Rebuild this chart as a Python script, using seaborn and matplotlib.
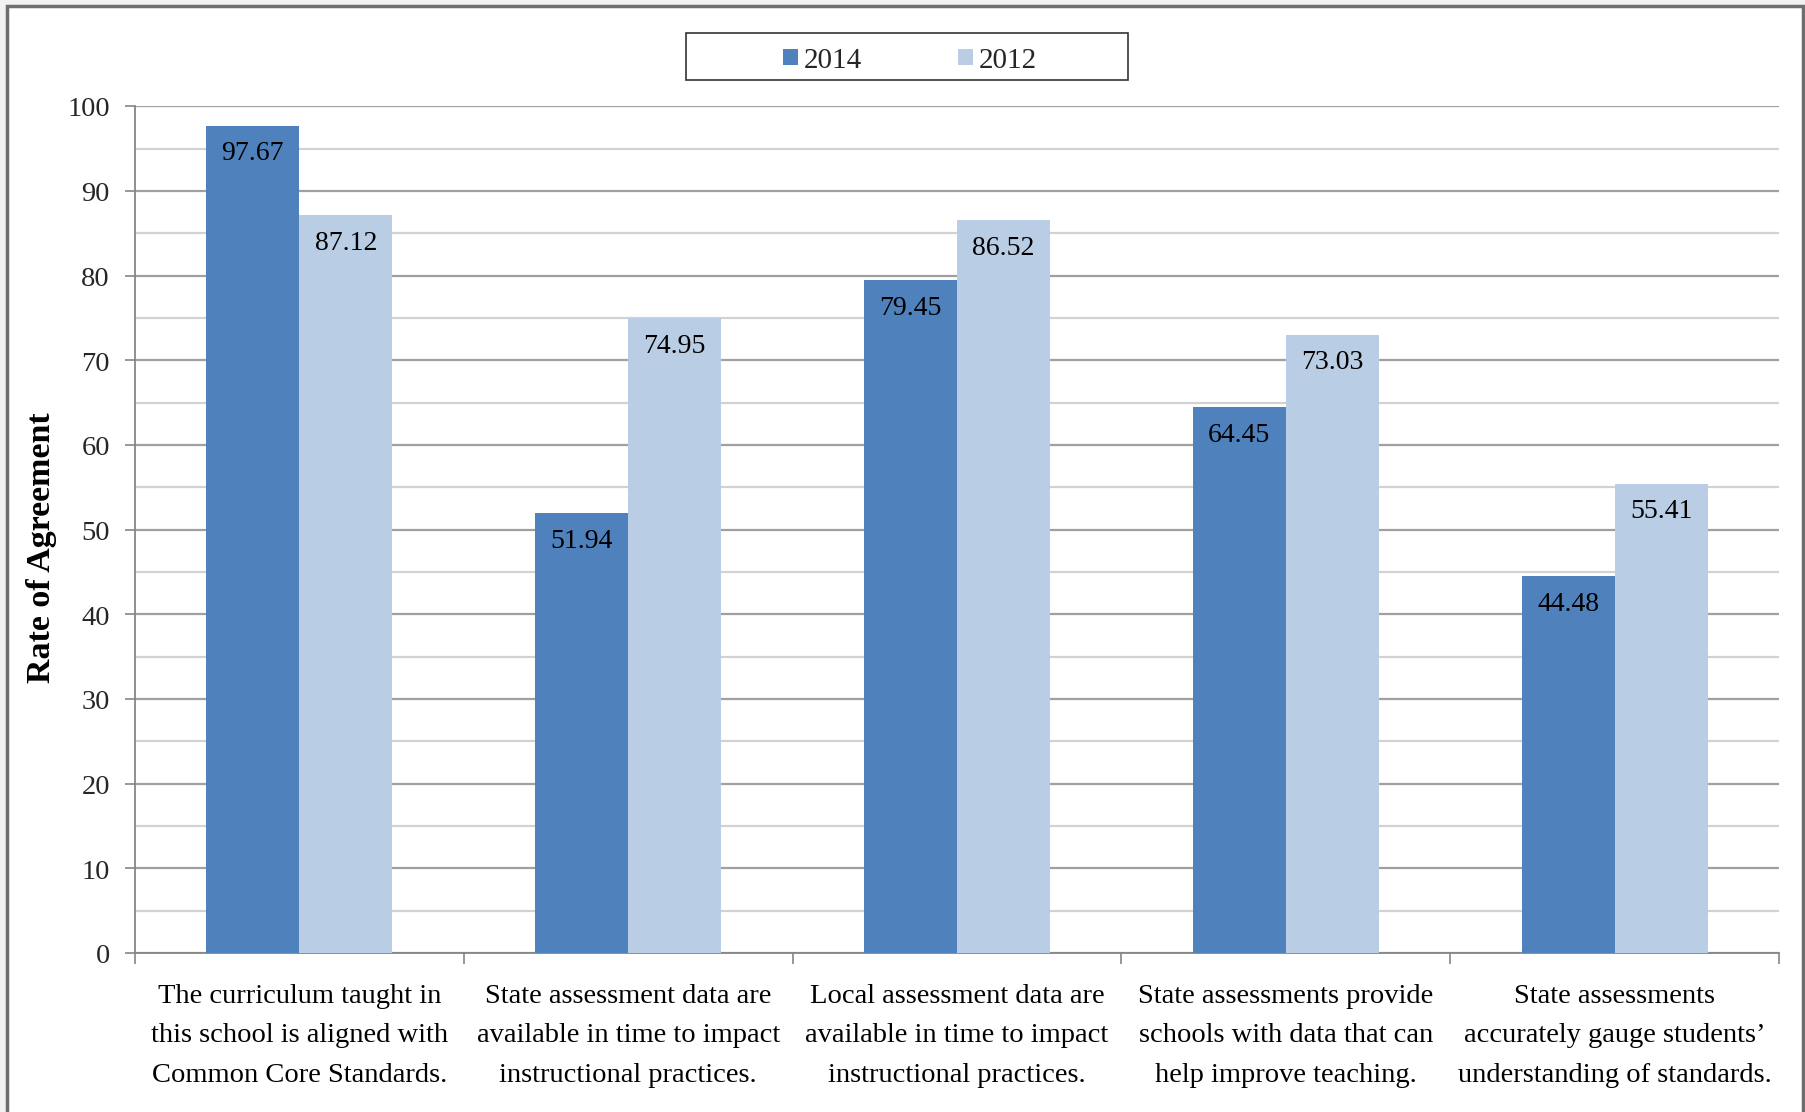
import pandas as pd
import matplotlib
matplotlib.use("Agg")
import matplotlib.pyplot as plt
from matplotlib.patches import Rectangle
from matplotlib.transforms import ScaledTranslation
import seaborn as sns

# chart data
categories = [
    "The curriculum taught in\nthis school is aligned with\nCommon Core Standards.",
    "State assessment data are\navailable in time to impact\ninstructional practices.",
    "Local assessment data are\navailable in time to impact\ninstructional practices.",
    "State assessments provide\nschools with data that can\nhelp improve teaching.",
    "State assessments\naccurately gauge students\u2019\nunderstanding of standards.",
]
years = ["2014", "2012"]
values_2014 = [97.67, 51.94, 79.45, 64.45, 44.48]
values_2012 = [87.12, 74.95, 86.52, 73.03, 55.41]
colors = ["#4F81BD", "#B9CDE5"]

df = pd.DataFrame({
    "category": categories * 2,
    "year": [years[0]] * len(categories) + [years[1]] * len(categories),
    "value": values_2014 + values_2012,
})

sns.set_theme(style="white")
plt.rcParams["font.family"] = ["Liberation Serif", "DejaVu Serif"]

W, H = 1806, 1113
fig = plt.figure(figsize=(18.06, 11.128), dpi=100)
fig.patch.set_facecolor("#f2f2f2")

# white chart area with grey frame, kept behind the axes
frame = Rectangle((7 / W, -0.02), (1803 - 7) / W, 1.02 - 7 / H,
                  transform=fig.transFigure, facecolor="white",
                  edgecolor="#6e6e6e", linewidth=2.5, zorder=-10)
fig.patches.append(frame)

ax = fig.add_axes([135 / W, 1 - 954 / H, (1779 - 135) / W, (954 - 107) / H])
ax.set_facecolor("none")
ax.set_zorder(1)

sns.barplot(data=df, x="category", y="value", hue="year", hue_order=years,
            palette=colors, width=0.566, gap=0, saturation=1, ax=ax,
            edgecolor="none", linewidth=0, legend=False, zorder=3)

# value labels inside the top of each bar
for container in ax.containers:
    for bar in container:
        h = bar.get_height()
        ax.annotate(f"{h:.2f}", (bar.get_x() + bar.get_width() / 2, h),
                    xytext=(0, -10.5), textcoords="offset points",
                    ha="center", va="top", fontsize=20, color="black", zorder=4)

ax.set_ylim(0, 100)
ax.set_xlim(-0.5, len(categories) - 0.5)
ax.set_yticks(range(0, 101, 10))
ax.set_yticks(range(5, 100, 10), minor=True)
ax.grid(axis="y", which="major", color="#a0a0a0", linewidth=1.6, zorder=1)
ax.grid(axis="y", which="minor", color="#d2d2d2", linewidth=1.6, zorder=1)
ax.set_axisbelow(True)

# category labels: one text per line, baselines ~39.5 px apart
ax.set_xticks(range(len(categories)), labels=[""] * len(categories))
ax.set_xticks([i - 0.5 for i in range(len(categories) + 1)], minor=True)
baseline_px = [49, 88.5, 128]
for i, cat in enumerate(categories):
    for line, dy in zip(cat.split("\n"), baseline_px):
        tr = ax.get_xaxis_transform() + ScaledTranslation(0, -dy / 100, fig.dpi_scale_trans)
        ax.text(i, 0, line, transform=tr, ha="center", va="baseline",
                fontsize=20.5, color="black")

ax.tick_params(axis="x", which="major", length=0)
ax.tick_params(axis="x", which="minor", length=8, width=1.2, color="#868686",
               direction="out", bottom=True)
ax.tick_params(axis="y", which="major", length=7, width=1.2, color="#868686",
               direction="out", left=True, pad=11, labelsize=20.5)
ax.tick_params(axis="y", which="minor", length=0)

for side in ["top", "right"]:
    ax.spines[side].set_visible(False)
for side in ["left", "bottom"]:
    ax.spines[side].set_color("#868686")
    ax.spines[side].set_linewidth(1.3)

ax.set_xlabel("")
ax.set_ylabel("Rate of Agreement", fontsize=24.5, fontweight="bold", color="black")
ax.yaxis.set_label_coords(-0.0474, 0.48)

# legend with its own box
handles = [Rectangle((0, 0), 1, 1, facecolor=c, edgecolor="none") for c in colors]
fig.legend(handles, years, loc="center", bbox_to_anchor=(910 / W, 1 - 61 / H),
           ncol=2, frameon=False, fontsize=21, handlelength=0.5,
           handleheight=0.5, handletextpad=0.2, columnspacing=3.3)
fig.patches.append(Rectangle((686 / W, 1 - 81 / H), (1128 - 686) / W, 47 / H,
                             transform=fig.transFigure, facecolor="none",
                             edgecolor="#333333", linewidth=1.2, zorder=2))

fig.savefig("out.png", dpi=100, facecolor=fig.get_facecolor())
